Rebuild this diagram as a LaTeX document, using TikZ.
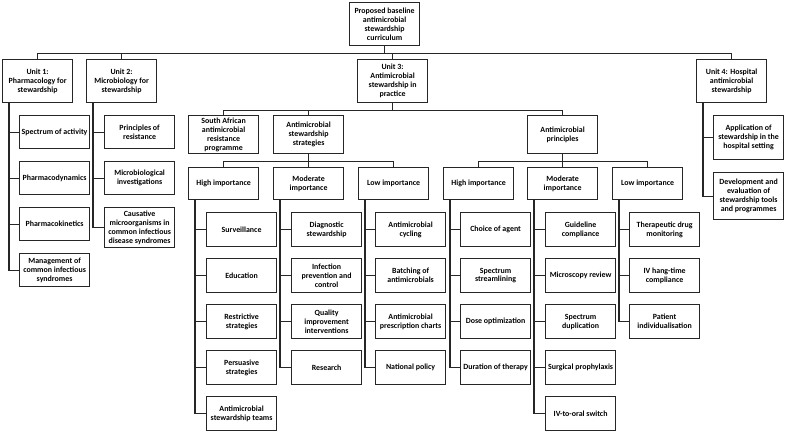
\documentclass[tikz,border=0pt]{standalone}
\usepackage{fontspec}
\setmainfont{Carlito}
\newcommand{\Branch}[2]%
% parent, child
{ \draw[link] (#1.south) -- ++(0,7) -| (#2.north); }
\newcommand{\Leaf}[2]%
% parent, child
{
    % spine 7pt right of the parent's left side
    \draw[link] ([xshift=7pt]#1.south west) |- (#2.west);
}
\begin{document}
\begin{tikzpicture}
[   x=1pt, y=-1pt,
    box/.style={draw=black!85, line width=1.2pt, anchor=north west, minimum width=70pt, inner sep=1pt, align=center, font=\bfseries\fontsize{7.9}{8.9}\selectfont},
    unit/.style={box, minimum height=43pt},
    topic/.style={box, minimum height=38pt},
    level/.style={box, minimum height=32pt},
    leaf/.style={box, minimum height=34pt},
    link/.style={draw=black!85, line width=1.2pt}
]
    \useasboundingbox (0,0) rectangle (786,432);

    \node[unit] (root) at (349,2) {Proposed baseline\\antimicrobial\\stewardship\\curriculum};

    \node[unit] (U1) at (2,59) {Unit 1:\\Pharmacology for\\stewardship};
    \node[unit] (U2) at (86,59) {Unit 2:\\Microbiology for\\stewardship};
    \node[unit] (U3) at (357,59) {Unit 3:\\Antimicrobial\\stewardship in\\practice};
    \node[unit] (U4) at (696,59) {Unit 4: Hospital\\antimicrobial\\stewardship};
    \foreach \u in {U1,U2,U3,U4}
        {\Branch{root}{\u}}

    % unit 1
    \node[leaf, minimum height=33pt] (P1) at (19,115) {Spectrum of activity};
    \node[leaf, minimum height=33pt] (P2) at (19,161) {Pharmacodynamics};
    \node[leaf, minimum height=33pt] (P3) at (19,207) {Pharmacokinetics};
    \node[leaf, minimum height=33pt] (P4) at (19,253) {Management of\\common infectious\\syndromes};
    \foreach \l in {P1,P2,P3,P4}
        {\Leaf{U1}{\l}}

    % unit 2
    \node[leaf, minimum height=33pt] (M1) at (104,115) {Principles of\\resistance};
    \node[leaf, minimum height=33pt] (M2) at (104,161) {Microbiological\\investigations};
    \node[leaf, minimum height=40pt] (M3) at (104,207) {Causative\\microorganisms in\\common infectious\\disease syndromes};
    \foreach \l in {M1,M2,M3}
        {\Leaf{U2}{\l}}

    % unit 3
    \node[topic] (SA) at (188,115) {South African\\antimicrobial\\resistance\\programme};
    \node[topic] (ST) at (273,115) {Antimicrobial\\stewardship\\strategies};
    \node[topic] (PR) at (527,115) {Antimicrobial\\principles};
    \foreach \t in {SA,ST,PR}
        {\Branch{U3}{\t}}

    \node[level] (SH) at (188,167) {High importance};
    \node[level] (SM) at (273,167) {Moderate\\importance};
    \node[level] (SL) at (358,167) {Low importance};
    \node[level] (PH) at (443,167) {High importance};
    \node[level] (PM) at (527,167) {Moderate\\importance};
    \node[level] (PL) at (612,167) {Low importance};
    \foreach \i in {SH,SM,SL}
        {\Branch{ST}{\i}}
    \foreach \i in {PH,PM,PL}
        {\Branch{PR}{\i}}

    \node[leaf] (SH1) at (206,212) {Surveillance};
    \node[leaf] (SH2) at (206,258) {Education};
    \node[leaf] (SH3) at (206,304) {Restrictive\\strategies};
    \node[leaf] (SH4) at (206,350) {Persuasive\\strategies};
    \node[leaf] (SH5) at (206,396) {Antimicrobial\\stewardship teams};
    \foreach \l in {SH1,SH2,SH3,SH4,SH5}
        {\Leaf{SH}{\l}}

    \node[leaf] (SM1) at (291,212) {Diagnostic\\stewardship};
    \node[leaf] (SM2) at (291,258) {Infection\\prevention and\\control};
    \node[leaf] (SM3) at (291,304) {Quality\\improvement\\interventions};
    \node[leaf] (SM4) at (291,350) {Research};
    \foreach \l in {SM1,SM2,SM3,SM4}
        {\Leaf{SM}{\l}}

    \node[leaf] (SL1) at (375,212) {Antimicrobial\\cycling};
    \node[leaf] (SL2) at (375,258) {Batching of\\antimicrobials};
    \node[leaf] (SL3) at (375,304) {Antimicrobial\\prescription charts};
    \node[leaf] (SL4) at (375,350) {National policy};
    \foreach \l in {SL1,SL2,SL3,SL4}
        {\Leaf{SL}{\l}}

    \node[leaf] (PH1) at (460,212) {Choice of agent};
    \node[leaf] (PH2) at (460,258) {Spectrum\\streamlining};
    \node[leaf] (PH3) at (460,304) {Dose optimization};
    \node[leaf] (PH4) at (460,350) {Duration of therapy};
    \foreach \l in {PH1,PH2,PH3,PH4}
        {\Leaf{PH}{\l}}

    \node[leaf] (PM1) at (545,212) {Guideline\\compliance};
    \node[leaf] (PM2) at (545,258) {Microscopy review};
    \node[leaf] (PM3) at (545,304) {Spectrum\\duplication};
    \node[leaf] (PM4) at (545,350) {Surgical prophylaxis};
    \node[leaf] (PM5) at (545,396) {IV-to-oral switch};
    \foreach \l in {PM1,PM2,PM3,PM4,PM5}
        {\Leaf{PM}{\l}}

    \node[leaf] (PL1) at (629,212) {Therapeutic drug\\monitoring};
    \node[leaf] (PL2) at (629,258) {IV hang-time\\compliance};
    \node[leaf] (PL3) at (629,304) {Patient\\individualisation};
    \foreach \l in {PL1,PL2,PL3}
        {\Leaf{PL}{\l}}

    % unit 4
    \node[leaf, minimum height=44pt] (H1) at (713,115) {Application of\\stewardship in the\\hospital setting};
    \node[leaf, minimum height=47pt] (H2) at (713,172) {Development and\\evaluation of\\stewardship tools\\and programmes};
    \foreach \l in {H1,H2}
        {\Leaf{U4}{\l}}
\end{tikzpicture}
\end{document}
